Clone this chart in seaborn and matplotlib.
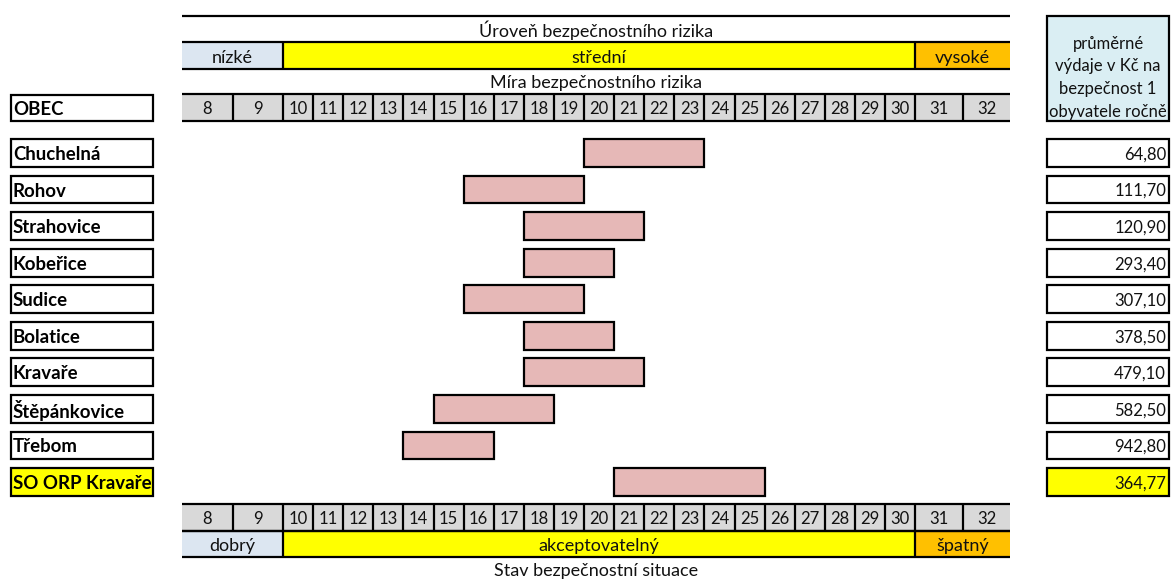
import numpy as np
import pandas as pd
import seaborn as sns
import matplotlib.pyplot as plt
from matplotlib.patches import Rectangle
from matplotlib.transforms import blended_transform_factory

# data
obce = ["Chuchelná", "Rohov", "Strahovice", "Kobeřice", "Sudice", "Bolatice",
        "Kravaře", "Štěpánkovice", "Třebom", "SO ORP Kravaře"]
riziko_od = [20, 16, 18, 18, 16, 18, 18, 15, 14, 21]
riziko_do = [23, 19, 21, 20, 19, 20, 21, 18, 16, 25]
vydaje = [64.80, 111.70, 120.90, 293.40, 307.10, 378.50, 479.10, 582.50, 942.80, 364.77]
stupnice = [8, 9, 10, 11, 12, 13, 14, 15, 16, 17, 18, 19, 20, 21, 22, 23, 24,
            25, 26, 27, 28, 29, 30, 31, 32]
urovne = ["nízké", "střední", "vysoké"]
stavy = ["dobrý", "akceptovatelný", "špatný"]
hlavicka_vydaje = ["průměrné", "výdaje v Kč na", "bezpečnost 1", "obyvatele ročně"]

df = pd.DataFrame({"obec": obce, "od": riziko_od, "do": riziko_do, "vydaje": vydaje})
df["sirka"] = df["do"] - df["od"] + 1

W, H = 1174, 581
FS = 13      # text
FS_NUM = 12  # digits
FS_B = 13.4  # bold names
TXT = "#111111"
ZLUTA, ORANZ, MODRA, SEDA, RUZ = "#FFFF00", "#FFC000", "#DCE6F1", "#D9D9D9", "#E6B8B7"


def fy(py):
    return 1 - py / H


def fx(px):
    return px / W


sns.set_theme(style="white")
plt.rcParams["font.family"] = ["Lato", "DejaVu Sans"]

fig = plt.figure(figsize=(W / 100, H / 100), dpi=100)
ax = fig.add_axes([fx(182), fy(500.3), 828 / W, 365.6 / H])

BAR_H = 0.76
sns.barplot(data=df, x="sirka", y="obec", order=obce, left=df["od"].to_numpy(),
            color=RUZ, saturation=1, width=BAR_H, errorbar=None,
            edgecolor="black", linewidth=1.6, ax=ax)

# column edges of the scale (8, 9, 31, 32 are wider cells)
edges = [6.645, 8.34] + list(range(10, 32)) + [32.6, 34.15]
ax.set_xlim(edges[0], edges[-1])
ax.set_ylim(len(obce) - 0.5, -0.5)
ax.set_axis_off()

tr = blended_transform_factory(ax.transData, fig.transFigure)
tr_l = blended_transform_factory(fig.transFigure, ax.transData)


def hline(py, lw=1.6):
    ax.plot([edges[0], edges[-1]], [fy(py), fy(py)], transform=tr, color="black",
            lw=lw, clip_on=False, solid_capstyle="butt")


def vline(x, py0, py1):
    ax.plot([x, x], [fy(py0), fy(py1)], transform=tr, color="black",
            lw=1.6, clip_on=False, solid_capstyle="butt")


def radek_cisel(py0, py1):
    ax.add_patch(Rectangle((edges[0], fy(py1)), edges[-1] - edges[0], fy(py0) - fy(py1),
                           transform=tr, facecolor=SEDA, edgecolor="none", clip_on=False))
    for e in edges[1:-1]:
        vline(e, py0, py1)
    hline(py0)
    hline(py1)
    for i, s in enumerate(stupnice):
        ax.text((edges[i] + edges[i + 1]) / 2, fy((py0 + py1) / 2), str(s), transform=tr,
                ha="center", va="center_baseline", fontsize=FS_NUM, color=TXT)


def pasmo(py0, py1, popisky):
    hranice = [edges[0], 10, 31, edges[-1]]
    for i, (txt, c) in enumerate(zip(popisky, [MODRA, ZLUTA, ORANZ])):
        ax.add_patch(Rectangle((hranice[i], fy(py1)), hranice[i + 1] - hranice[i],
                               fy(py0) - fy(py1), transform=tr, facecolor=c,
                               edgecolor="none", clip_on=False))
        ax.text((hranice[i] + hranice[i + 1]) / 2, fy((py0 + py1) / 2 + 1), txt,
                transform=tr, ha="center", va="center_baseline", fontsize=FS, color=TXT)
    vline(10, py0, py1)
    vline(31, py0, py1)
    hline(py0)
    hline(py1)


stred = (edges[0] + edges[-1]) / 2

# header
hline(16)
ax.text(stred, fy(37), "Úroveň bezpečnostního rizika", transform=tr, ha="center",
        va="baseline", fontsize=FS, color=TXT)
pasmo(42, 69, urovne)
ax.text(stred, fy(88), "Míra bezpečnostního rizika", transform=tr, ha="center",
        va="baseline", fontsize=FS, color=TXT)
radek_cisel(94, 121)

# footer
radek_cisel(504, 531)
pasmo(531, 557, stavy)
ax.text(stred, fy(576), "Stav bezpečnostní situace", transform=tr, ha="center",
        va="baseline", fontsize=FS, color=TXT)

# left column
fig.patches.append(Rectangle((fx(11), fy(121)), fx(153) - fx(11), fy(95) - fy(121),
                             transform=fig.transFigure, facecolor="white",
                             edgecolor="black", lw=1.6))
fig.text(fx(13), fy(108), "OBEC", ha="left", va="center_baseline", fontsize=FS_B,
         fontweight="bold", color="black")

# right column header
fig.patches.append(Rectangle((fx(1047), fy(121)), fx(1169) - fx(1047), fy(16) - fy(121),
                             transform=fig.transFigure, facecolor="#DAEEF3",
                             edgecolor="black", lw=1.6))
for k, radek in enumerate(hlavicka_vydaje):
    fig.text(fx(1108), fy(42 + 22.7 * k), radek, ha="center", va="center_baseline",
             fontsize=FS_NUM, color=TXT)

for i, row in df.iterrows():
    fc = ZLUTA if row["obec"].startswith("SO ORP") else "white"
    ax.add_patch(Rectangle((fx(11), i - BAR_H / 2), fx(153) - fx(11), BAR_H,
                           transform=tr_l, facecolor=fc, edgecolor="black", lw=1.6,
                           clip_on=False))
    ax.text(fx(13), i, row["obec"], transform=tr_l, ha="left", va="center_baseline",
            fontsize=FS_B, fontweight="bold", color="black")
    ax.add_patch(Rectangle((fx(1047), i - BAR_H / 2), fx(1169) - fx(1047), BAR_H,
                           transform=tr_l, facecolor=fc, edgecolor="black", lw=1.6,
                           clip_on=False))
    ax.text(fx(1166), i, f"{row['vydaje']:.2f}".replace(".", ","), transform=tr_l,
            ha="right", va="center_baseline", fontsize=FS_NUM, color=TXT)

fig.savefig("out.png", dpi=100)
